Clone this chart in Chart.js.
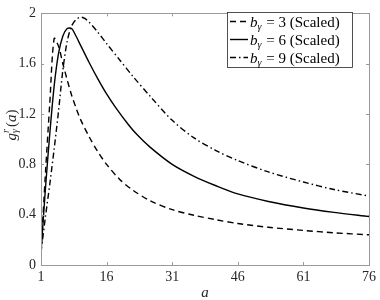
<!DOCTYPE html>
<html>
<head>
<meta charset="utf-8">
<script src="https://cdn.jsdelivr.net/npm/chart.js@4/dist/chart.umd.min.js"></script>
<style>
html,body{margin:0;padding:0;background:#fff;}
#wrap{width:380px;height:300px;position:relative;}
</style>
</head>
<body>
<div id="wrap"><canvas id="c" width="380" height="300"></canvas></div>
<script>
// ---- data ----
const xTicks = [1, 16, 31, 46, 61, 76];
const yTicks = [0, 0.4, 0.8, 1.2, 1.6, 2];

const a3 = [1, 2, 3, 4, 5, 6, 7, 8, 9, 10, 12, 14, 16, 19, 22, 26, 31, 36, 41, 46, 53, 61, 68, 76];
const g3 = [0.10, 0.72, 1.28, 1.80, 1.74, 1.60, 1.47, 1.35, 1.25, 1.16, 1.02, 0.90, 0.80, 0.68, 0.595, 0.51, 0.44, 0.395, 0.36, 0.33, 0.30, 0.275, 0.256, 0.24];

const a6 = [1, 2, 3, 4, 5, 6, 7, 8, 9, 10, 12, 14, 16, 18, 21, 23, 26, 31, 36, 41, 46, 53, 61, 68, 76];
const g6 = [0.10, 0.60, 1.04, 1.42, 1.68, 1.82, 1.88, 1.88, 1.82, 1.75, 1.61, 1.48, 1.36, 1.255, 1.115, 1.035, 0.935, 0.80, 0.705, 0.63, 0.565, 0.505, 0.453, 0.418, 0.385];

const a9 = [1, 2, 3, 4, 5, 6, 7, 8, 9, 10, 11, 12, 14, 16, 19, 22, 26, 31, 36, 41, 46, 53, 61, 68, 76];
const g9 = [0.10, 0.38, 0.64, 0.92, 1.22, 1.55, 1.78, 1.90, 1.95, 1.97, 1.96, 1.93, 1.85, 1.76, 1.63, 1.50, 1.34, 1.15, 1.01, 0.91, 0.83, 0.74, 0.66, 0.60, 0.548];

const seriesLabels = ['3', '6', '9'];

const toPts = (xs, ys) => xs.map((x, i) => ({x: x, y: ys[i]}));

const SERIF = '"Liberation Serif", "DejaVu Serif", serif';
const AXIS_COLOR = '#9a9a9a';
const TEXT_COLOR = '#262626';

const dashes = [[6, 4], [], [6, 3, 1.5, 3]];

const decor = {
  id: 'decor',
  afterDatasetsDraw(chart) {
    const ctx = chart.ctx;
    const ca = chart.chartArea;
    const xs = chart.scales.x, ys = chart.scales.y;
    ctx.save();
    // box
    ctx.strokeStyle = AXIS_COLOR;
    ctx.lineWidth = 1;
    ctx.setLineDash([]);
    ctx.strokeRect(Math.round(ca.left) + 0.5, Math.round(ca.top) + 0.5,
                   Math.round(ca.right - ca.left), Math.round(ca.bottom - ca.top));
    // inner ticks
    const tl = 3;
    ctx.beginPath();
    xTicks.forEach(v => {
      const p = Math.round(xs.getPixelForValue(v)) + 0.5;
      ctx.moveTo(p, ca.bottom); ctx.lineTo(p, ca.bottom - tl);
      ctx.moveTo(p, ca.top); ctx.lineTo(p, ca.top + tl);
    });
    yTicks.forEach(v => {
      const p = Math.round(ys.getPixelForValue(v)) + 0.5;
      ctx.moveTo(ca.left, p); ctx.lineTo(ca.left + tl, p);
      ctx.moveTo(ca.right, p); ctx.lineTo(ca.right - tl, p);
    });
    ctx.stroke();

    // legend
    const lx = 227.5, ly = 12.5, lw = 125, lh = 55;
    ctx.fillStyle = '#fff';
    ctx.fillRect(lx, ly, lw, lh);
    ctx.strokeStyle = TEXT_COLOR;
    ctx.lineWidth = 0.8;
    ctx.strokeRect(lx, ly, lw, lh);
    chart.data.datasets.forEach((ds, i) => {
      const cy = 21.5 + i * 18;
      ctx.strokeStyle = '#000';
      ctx.lineWidth = 1.4;
      ctx.setLineDash(ds.borderDash || []);
      ctx.beginPath();
      ctx.moveTo(230, cy); ctx.lineTo(248, cy);
      ctx.stroke();
      ctx.setLineDash([]);
      ctx.fillStyle = '#000';
      ctx.textBaseline = 'alphabetic';
      ctx.textAlign = 'left';
      let x = 250;
      const base = cy + 5;
      ctx.font = 'italic 15px ' + SERIF;
      ctx.fillText('b', x, base); x += ctx.measureText('b').width;
      ctx.font = 'italic 10px ' + SERIF;
      ctx.fillText('γ', x, base + 3); x += ctx.measureText('γ').width + 1;
      ctx.font = '15px ' + SERIF;
      const rest = ' = ' + seriesLabels[i] + ' (Scaled)';
      ctx.fillText(rest, x, base);
    });

    // y-axis title g_γ^r(a)
    ctx.translate(12, 125);
    ctx.rotate(-Math.PI / 2);
    ctx.fillStyle = TEXT_COLOR;
    const parts = [
      {t: 'g', f: 'italic 15px ', dy: 0},
      {t: 'r', f: 'italic 10px ', dy: -6, stack: true},
      {t: 'γ', f: 'italic 10px ', dy: 3},
      {t: '(', f: '15px ', dy: 0},
      {t: 'a', f: 'italic 15px ', dy: 0},
      {t: ')', f: '15px ', dy: 0}
    ];
    let total = 0;
    const widths = parts.map(p => { ctx.font = p.f + SERIF; return ctx.measureText(p.t).width; });
    parts.forEach((p, i) => { if (!p.stack) total += widths[i]; });
    total += 2;
    let x = -total / 2;
    ctx.textAlign = 'left';
    ctx.textBaseline = 'middle';
    parts.forEach((p, i) => {
      ctx.font = p.f + SERIF;
      ctx.fillText(p.t, x, p.dy);
      if (!p.stack) x += widths[i];
      if (p.t === 'γ') x += 2;
    });
    ctx.restore();
  }
};

new Chart(document.getElementById('c'), {
  type: 'line',
  data: {
    datasets: [
      {label: 'b_γ = 3 (Scaled)', data: toPts(a3, g3), borderDash: dashes[0]},
      {label: 'b_γ = 6 (Scaled)', data: toPts(a6, g6), borderDash: dashes[1]},
      {label: 'b_γ = 9 (Scaled)', data: toPts(a9, g9), borderDash: dashes[2]}
    ].map(d => Object.assign(d, {
      borderColor: '#000', borderWidth: 1.4, pointRadius: 0, fill: false,
      tension: 0.3
    }))
  },
  options: {
    responsive: false,
    animation: false,
    devicePixelRatio: 1,
    layout: {padding: {left: 0, right: 7, top: 6, bottom: 0}},
    plugins: {legend: {display: false}, tooltip: {enabled: false}},
    scales: {
      x: {
        type: 'linear', min: 1, max: 76,
        afterBuildTicks: s => { s.ticks = xTicks.map(v => ({value: v})); },
        afterFit: s => { s.height = 35; },
        grid: {display: false, drawTicks: false},
        border: {display: false},
        ticks: {color: TEXT_COLOR, font: {family: SERIF, size: 14}, padding: 4, maxRotation: 0,
                callback: v => String(v)},
        title: {display: true, text: 'a', color: TEXT_COLOR,
                font: {family: SERIF, size: 15, style: 'italic'}, padding: {top: 0, bottom: -2}}
      },
      y: {
        type: 'linear', min: 0, max: 2,
        afterBuildTicks: s => { s.ticks = yTicks.map(v => ({value: v})); },
        afterFit: s => { s.width = 41; },
        grid: {display: false, drawTicks: false},
        border: {display: false},
        ticks: {color: TEXT_COLOR, font: {family: SERIF, size: 14}, padding: 5,
                callback: v => String(v)}
      }
    }
  },
  plugins: [decor]
});
</script>
</body>
</html>
